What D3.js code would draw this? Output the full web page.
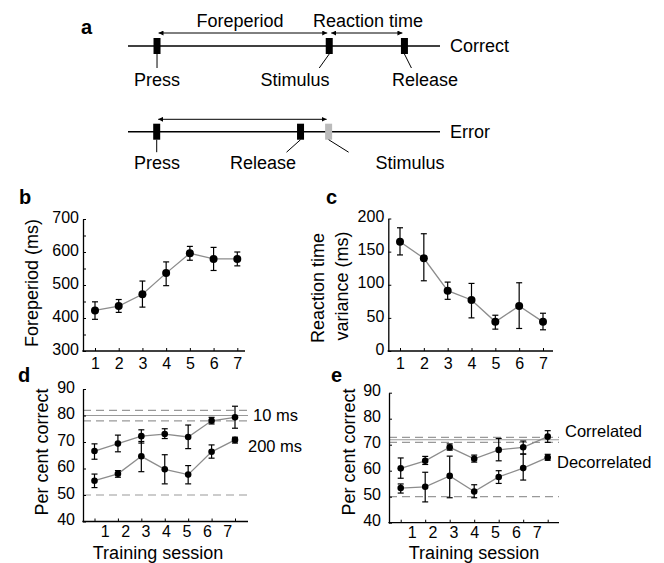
<!DOCTYPE html>
<html><head><meta charset="utf-8">
<script src="https://cdn.jsdelivr.net/npm/d3@7"></script>
<style>
body{margin:0;background:#fff;}
svg{display:block;font-family:"Liberation Sans",Arial,Helvetica,sans-serif;}
.tick text{font-family:"Liberation Sans",Arial,sans-serif;}
</style></head>
<body><svg id="c" width="664" height="563"></svg>
<script>
// ---------- DATA ----------
const sessions = [1,2,3,4,5,6,7];

// panel b: foreperiod (ms)
const foreMean = [423, 436, 472, 536, 596, 579, 579];
const foreLo   = [396, 417, 433, 498, 575, 544, 558];
const foreHi   = [449, 456, 512, 570, 617, 614, 600];

// panel c: reaction time variance (ms)
const rtMean = [165, 140, 91, 77, 44, 68, 44];
const rtLo   = [145, 106, 78, 50, 33, 34, 32];
const rtHi   = [186, 177, 104, 102, 54, 103, 57];

// panel d: per cent correct, 10 ms and 200 ms
const d10Mean  = [66.6, 69.4, 72.2, 73.0, 71.9, 78.0, 79.3];
const d10Lo    = [63.5, 66.3, 69.6, 71.3, 67.5, 76.8, 75.2];
const d10Hi    = [69.3, 72.6, 74.6, 75.0, 76.4, 79.3, 83.5];
const d200Mean = [55.4, 58.0, 64.6, 59.7, 57.7, 66.3, 70.8];
const d200Lo   = [52.8, 56.7, 58.8, 54.2, 54.2, 63.9, 69.6];
const d200Hi   = [57.9, 59.2, 70.2, 65.2, 61.1, 68.9, 71.8];
const dRef     = [81.9, 80.0, 78.0];   // dashed, solid, dashed
const dChance  = 50;

// panel e: correlated / decorrelated
const eCorMean = [60.9, 63.8, 69.0, 64.6, 68.0, 69.0, 73.1];
const eCorLo   = [57.1, 62.4, 67.9, 63.3, 63.8, 66.4, 70.9];
const eCorHi   = [64.9, 65.5, 70.3, 66.0, 72.4, 71.4, 75.4];
const eDecMean = [53.3, 53.8, 58.0, 52.0, 57.6, 61.0, 65.1];
const eDecLo   = [51.4, 48.0, 49.6, 49.6, 55.1, 56.4, 64.0];
const eDecHi   = [54.9, 59.4, 65.6, 54.6, 60.0, 66.4, 66.3];
const eRef     = [72.8, 71.9, 70.9];
const eChance  = 50;

const ticksB = [300,400,500,600,700];
const ticksC = [0,50,100,150,200];
const ticksDE = [40,50,60,70,80,90];

// panel a: schematic events (time in arbitrary units)
const correctEvents = [
  {name:"Press", t:9.3, fill:"#000"},
  {name:"Stimulus", t:64.5, fill:"#000"},
  {name:"Release", t:88.6, fill:"#000"}
];
const errorEvents = [
  {name:"Press", t:9.2, fill:"#000"},
  {name:"Release", t:55.3, fill:"#000"},
  {name:"Stimulus", t:64.3, fill:"#bbbbbb"}
];

// ---------- DRAW ----------
const svg = d3.select("#c");
const gray = "#8c8c8c";

const defs = svg.append("defs");
["s","e"].forEach(k=>{
  defs.append("marker").attr("id","arr"+k).attr("viewBox","0 0 10 10")
    .attr("refX", 10).attr("refY",5).attr("markerWidth",5).attr("markerHeight",5)
    .attr("orient", k==="s" ? "auto-start-reverse" : "auto")
    .attr("markerUnits","userSpaceOnUse")
    .append("path").attr("d","M0,0 L10,5 L0,10 z").attr("fill","#000");
});

// Panel a
const tx = d3.scaleLinear().domain([0,100]).range([128,440]);
function timeline(y, events, label) {
  const g = svg.append("g");
  g.append("line").attr("x1",tx(0)).attr("x2",tx(100)).attr("y1",y).attr("y2",y)
    .attr("stroke","#000").attr("stroke-width",1.4);
  g.selectAll("rect").data(events).enter().append("rect")
    .attr("x",d=>tx(d.t)-3.5).attr("y",y-8).attr("width",7).attr("height",16)
    .attr("fill",d=>d.fill);
  g.append("text").attr("x",450).attr("y",y).attr("dy","0.36em")
    .attr("font-size",18).text(label);
  return g;
}
const yC = 46, yE = 131.7;
const gc = timeline(yC, correctEvents, "Correct");
const ge = timeline(yE, errorEvents, "Error");

const cLab = [ {dx:0, lx:157}, {dx:-10, lx:295}, {dx:7, lx:425} ];
correctEvents.forEach((d,i)=>{
  const x0 = tx(d.t);
  gc.append("line").attr("x1",x0).attr("y1",yC+8).attr("x2",x0+cLab[i].dx).attr("y2",yC+22)
    .attr("stroke","#000").attr("stroke-width",1);
  gc.append("text").attr("x",cLab[i].lx).attr("y",yC+40).attr("text-anchor","middle")
    .attr("font-size",18).text(d.name);
});
const eLab = [ {dx:0, lx:157}, {dx:-14, lx:263}, {dx:20, lx:410} ];
errorEvents.forEach((d,i)=>{
  const x0 = tx(d.t);
  ge.append("line").attr("x1",x0).attr("y1",yE+8).attr("x2",x0+eLab[i].dx).attr("y2",yE+20.5)
    .attr("stroke","#000").attr("stroke-width",1);
  ge.append("text").attr("x",eLab[i].lx).attr("y",yE+37.5).attr("text-anchor","middle")
    .attr("font-size",18).text(d.name);
});
function arrow(x1,x2,y){
  svg.append("line").attr("x1",x1).attr("x2",x2).attr("y1",y).attr("y2",y)
    .attr("stroke","#000").attr("stroke-width",1)
    .attr("marker-start","url(#arrs)").attr("marker-end","url(#arre)");
}
arrow(tx(correctEvents[0].t)+1.5, tx(correctEvents[1].t)-2, 33);
arrow(tx(correctEvents[1].t)+2, tx(correctEvents[2].t)-2, 33);
arrow(tx(errorEvents[0].t)+1.5, tx(errorEvents[2].t)-2, 119.3);
svg.append("text").attr("x",240).attr("y",21).attr("dy","0.36em").attr("text-anchor","middle")
  .attr("font-size",18).text("Foreperiod");
svg.append("text").attr("x",368).attr("y",21).attr("dy","0.36em").attr("text-anchor","middle")
  .attr("font-size",18).text("Reaction time");

const letters = [["a",81,34],["b",19,204],["c",326,204],["d",18,382],["e",331,382]];
letters.forEach(l=>svg.append("text").attr("x",l[1]).attr("y",l[2]).attr("font-weight","bold")
  .attr("font-size",20).attr("font-family","Arial,'Liberation Sans',sans-serif").text(l[0]));

function yAxis(g, y, x0, vals, minor, pad) {
  const ax = g.append("g").attr("transform",`translate(${x0},0)`)
    .call(d3.axisLeft(y).tickValues(vals).tickSizeInner(-3).tickSizeOuter(0).tickPadding(pad));
  ax.select(".domain").attr("stroke-width",1.3);
  ax.selectAll(".tick line").attr("stroke-width",1);
  ax.selectAll(".tick text").attr("font-size",16).attr("dy","0.2em").attr("fill","#000");
  if (minor) {
    const m = g.append("g").attr("transform",`translate(${x0},0)`)
      .call(d3.axisLeft(y).tickValues(minor).tickSizeInner(-3).tickSizeOuter(0).tickFormat(""));
    m.select(".domain").remove();
  }
}
function xAxisLine(g, x0, x1, yb) {
  g.append("line").attr("x1",x0-0.65).attr("x2",x1).attr("y1",yb).attr("y2",yb)
    .attr("stroke","#000").attr("stroke-width",1.3);
}
function series(g, x, y, mean, lo, hi, r, cap) {
  const line = d3.line().x((d,i)=>x(sessions[i])).y(d=>y(d));
  g.append("path").attr("d",line(mean)).attr("fill","none").attr("stroke",gray).attr("stroke-width",1.3);
  const eb = g.append("g").attr("stroke","#000").attr("stroke-width",1.2);
  sessions.forEach((s,i)=>{
    const xx = x(s);
    eb.append("line").attr("x1",xx).attr("x2",xx).attr("y1",y(lo[i])).attr("y2",y(hi[i]));
    eb.append("line").attr("x1",xx-cap).attr("x2",xx+cap).attr("y1",y(lo[i])).attr("y2",y(lo[i]));
    eb.append("line").attr("x1",xx-cap).attr("x2",xx+cap).attr("y1",y(hi[i])).attr("y2",y(hi[i]));
  });
  g.selectAll(null).data(mean).enter().append("circle")
    .attr("cx",(d,i)=>x(sessions[i])).attr("cy",d=>y(d)).attr("r",r).attr("fill","#000");
}
function hline(g, x0, x1, yy, dashed) {
  g.append("line").attr("x1",x0).attr("x2",x1).attr("y1",yy).attr("y2",yy)
    .attr("stroke","#999").attr("stroke-width",1.2)
    .attr("stroke-dasharray", dashed ? "8,5" : null);
}

// Panel b
{
  const g = svg.append("g");
  const x = d3.scaleLinear().domain([1,7]).range([95,237.3]);
  const y = d3.scaleLinear().domain([300,700]).range([351,219]);
  const ax = 83, axEnd = 245;
  series(g, x, y, foreMean, foreLo, foreHi, 4, 3);
  yAxis(g, y, ax, ticksB, [350,450,550,650], 4);
  xAxisLine(g, ax, axEnd, 351);
  const xa = g.append("g").attr("transform","translate(0,351)")
    .call(d3.axisBottom(x).tickValues(sessions).tickSizeInner(-3).tickSizeOuter(0).tickPadding(7).tickFormat(d3.format("d")));
  xa.select(".domain").remove();
  xa.selectAll(".tick text").attr("font-size",16).attr("fill","#000");
  g.append("text").attr("transform","translate(38,283) rotate(-90)").attr("text-anchor","middle")
    .attr("font-size",18).text("Foreperiod (ms)");
}
// Panel c
{
  const g = svg.append("g");
  const x = d3.scaleLinear().domain([1,7]).range([400,543]);
  const y = d3.scaleLinear().domain([0,200]).range([351,218.5]);
  const ax = 388.3, axEnd = 553;
  series(g, x, y, rtMean, rtLo, rtHi, 4, 3);
  yAxis(g, y, ax, ticksC, null, 4);
  xAxisLine(g, ax, axEnd, 351);
  const xa = g.append("g").attr("transform","translate(0,351)")
    .call(d3.axisBottom(x).tickValues(sessions).tickSizeInner(-3).tickSizeOuter(0).tickPadding(7).tickFormat(d3.format("d")));
  xa.select(".domain").remove();
  xa.selectAll(".tick text").attr("font-size",16).attr("fill","#000");
  g.append("text").attr("transform","translate(324,288) rotate(-90)").attr("text-anchor","middle")
    .attr("font-size",18).text("Reaction time");
  g.append("text").attr("transform","translate(348,286) rotate(-90)").attr("text-anchor","middle")
    .attr("font-size",18).text("variance (ms)");
}
// Panels d & e
function pctPanel(opt) {
  const g = svg.append("g");
  const x = d3.scaleLinear().domain([1,7]).range(opt.xr);
  const xl = d3.scaleLinear().domain([1,7]).range(opt.xlr);
  const y = d3.scaleLinear().domain([40,90]).range(opt.yr);
  const yb = opt.yr[0];
  hline(g, opt.ax, opt.axEnd, y(opt.chance), true);
  opt.ref.forEach((v,i)=>hline(g, opt.ax, opt.axEnd, y(v), i!==1));
  series(g, x, y, opt.aMean, opt.aLo, opt.aHi, 3.3, 3);
  series(g, x, y, opt.bMean, opt.bLo, opt.bHi, 3.3, 3);
  yAxis(g, y, opt.ax, ticksDE, null, 8);
  xAxisLine(g, opt.ax, opt.axEnd, yb);
  const xt = g.append("g").attr("transform",`translate(0,${yb})`)
    .call(d3.axisBottom(x).tickValues(sessions).tickSizeInner(-3).tickSizeOuter(0).tickFormat(""));
  xt.select(".domain").remove();
  const xa = g.append("g").attr("transform",`translate(0,${yb})`)
    .call(d3.axisBottom(xl).tickValues(sessions).tickSize(0).tickPadding(4).tickFormat(d3.format("d")));
  xa.select(".domain").remove();
  xa.selectAll(".tick text").attr("font-size",16).attr("fill","#000");
  g.append("text").attr("x",opt.titleX).attr("y",558.5).attr("text-anchor","middle")
    .attr("font-size",18).text("Training session");
  g.append("text").attr("transform",`translate(${opt.ylabX},452) rotate(-90)`).attr("text-anchor","middle")
    .attr("font-size",18).text("Per cent correct");
  opt.labels.forEach(l=>g.append("text").attr("x",l[1]).attr("y",l[2]).attr("dy","0.36em")
    .attr("font-size",16.5).text(l[0]));
}
pctPanel({xr:[94.5,235], xlr:[104.7,227.3], yr:[521.5,389], ax:83, axEnd:248,
  chance:dChance, ref:dRef, aMean:d10Mean, aLo:d10Lo, aHi:d10Hi,
  bMean:d200Mean, bLo:d200Lo, bHi:d200Hi, titleX:158, ylabX:48,
  labels:[["10 ms",253,415],["200 ms",248,446]]});
pctPanel({xr:[400.7,547.7], xlr:[411.7,536.7], yr:[522.7,392.7], ax:389, axEnd:559,
  chance:eChance, ref:eRef, aMean:eCorMean, aLo:eCorLo, aHi:eCorHi,
  bMean:eDecMean, bLo:eDecLo, bHi:eDecHi, titleX:474, ylabX:355,
  labels:[["Correlated",565,431],["Decorrelated",557,462]]});
</script></body></html>
